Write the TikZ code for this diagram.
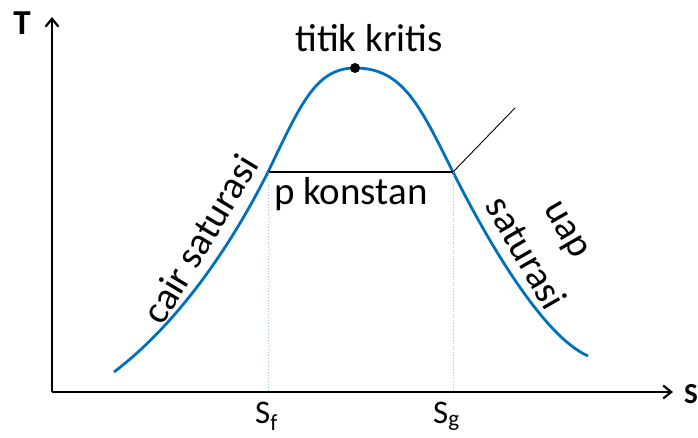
\documentclass[tikz,border=0pt]{standalone}
\usepackage{fontspec}
\setmainfont{Carlito}
\usepackage{tikz}
\usetikzlibrary{arrows.meta}
\definecolor{domeblue}{HTML}{0070C0}
\definecolor{guideblue}{HTML}{9DC3E6}

\begin{document}
\begin{tikzpicture}[
    x=1pt, y=-1pt,
    axis/.style={
        line width=2.4pt,
        -{Straight Barb[length=8pt,width=13pt,line width=2.2pt]}
    },
    dome/.style={
        draw=domeblue,
        line width=2.8pt
    },
    isobar/.style={
        draw=black,
        line width=1.1pt
    },
    guide/.style={
        draw=guideblue,
        line width=0.9pt,
        dotted
    },
    critdot/.style={
        circle,
        fill=black,
        minimum size=10pt,
        inner sep=0pt
    },
    lbl/.style={
        font=\fontsize{39}{50}\selectfont,
        inner sep=0pt
    },
    tick/.style={
        font=\fontsize{33}{38}\selectfont,
        inner sep=0pt
    },
    axlabel/.style={
        font=\fontsize{35}{40}\selectfont\bfseries,
        inner sep=0pt
    }
]
\useasboundingbox (0,0) rectangle (698,438);

% ------------------------------------------------------------
% axes
% ------------------------------------------------------------
\coordinate (O)    at (52,392);
\coordinate (Ttip) at (52,17);
\coordinate (Stip) at (673,392);

\draw[axis] (O) -- (Ttip);
\draw[axis] (O) -- (Stip);

\node[axlabel, anchor=base] (Tlab) at (22,35) {T};
\node[axlabel, anchor=base west, font=\fontsize{29}{32}\selectfont\bfseries] (Slab) at (684,403) {S};

% ------------------------------------------------------------
% saturation dome
% ------------------------------------------------------------
\coordinate (lo)  at (114,372);
\coordinate (sf)  at (268,172);
\coordinate (top) at (355,68);
\coordinate (sg)  at (453,172);
\coordinate (hi)  at (588,356);
\coordinate (sup) at (515,108);

\draw[dome] (lo) .. controls (180,322) and (233,242) .. (sf)
               .. controls (300,106) and (315,68) .. (top)
               .. controls (403,68) and (420,106) .. (sg)
               .. controls (488,242) and (543,336) .. (hi);

\node[critdot] (crit) at (top) {};

% constant pressure line
\draw[isobar] (sf) -- (sg);
\draw[isobar, line width=0.9pt] (sg) -- (sup);

\draw[guide] (sf) -- (sf |- O);
\draw[guide] (sg) -- (sg |- O);

% ------------------------------------------------------------
% labels
% ------------------------------------------------------------
\node[lbl, anchor=base] (kritis) at (369,52) {titik kritis};
\node[lbl, anchor=base west] (pkonst) at (274,205) {p konstan};
\node[lbl, rotate=59] (cair) at (200,239) {cair saturasi};
\node[lbl, rotate=-60, align=center] (uap) at (545,242) {uap\\saturasi};

\node[tick, anchor=base west] (sflab) at (255,423) {S\textsubscript{f}};
\node[tick, anchor=base west] (sglab) at (433,423) {S\textsubscript{g}};

\end{tikzpicture}
\end{document}
